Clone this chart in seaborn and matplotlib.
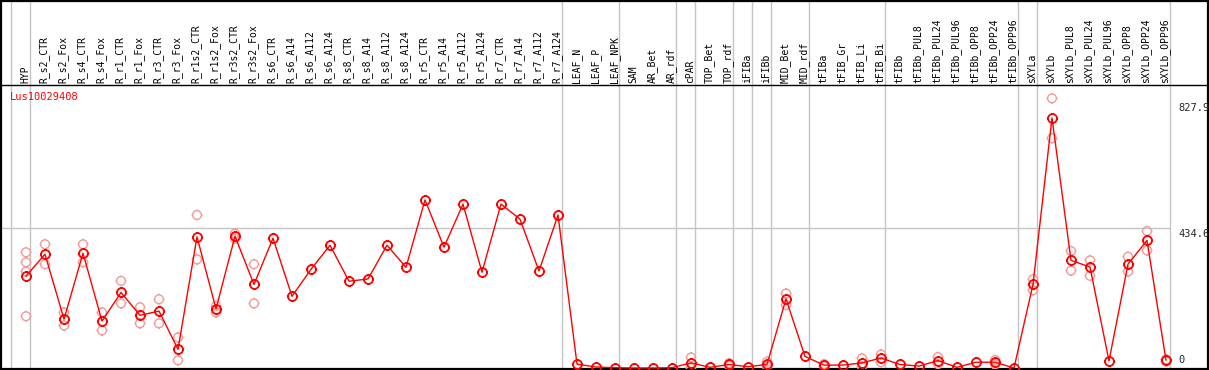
import numpy as np
import pandas as pd
import matplotlib
matplotlib.use("Agg")
import matplotlib.pyplot as plt
import seaborn as sns
from matplotlib.path import Path

categories = [
    "HYP", "R_s2_CTR", "R_s2_Fox", "R_s4_CTR", "R_s4_Fox", "R_r1_CTR", "R_r1_Fox",
    "R_r3_CTR", "R_r3_Fox", "R_r1s2_CTR", "R_r1s2_Fox", "R_r3s2_CTR", "R_r3s2_Fox",
    "R_s6_CTR", "R_s6_A14", "R_s6_A112", "R_s6_A124", "R_s8_CTR", "R_s8_A14",
    "R_s8_A112", "R_s8_A124", "R_r5_CTR", "R_r5_A14", "R_r5_A112", "R_r5_A124",
    "R_r7_CTR", "R_r7_A14", "R_r7_A112", "R_r7_A124", "LEAF_N", "LEAF_P", "LEAF_NPK",
    "SAM", "AR_Bet", "AR_rdf", "cPAR", "TOP_Bet", "TOP_rdf", "iFIBa", "iFIBb",
    "MID_Bet", "MID_rdf", "tFIBa", "tFIB_Gr", "tFIB_Li", "tFIB_Bi", "tFIBb",
    "tFIBb_PUL8", "tFIBb_PUL24", "tFIBb_PUL96", "tFIBb_OPP8", "tFIBb_OPP24",
    "tFIBb_OPP96", "sXYLa", "sXYLb", "sXYLb_PUL8", "sXYLb_PUL24", "sXYLb_PUL96",
    "sXYLb_OPP8", "sXYLb_OPP24", "sXYLb_OPP96",
]

means = [
    286, 354, 152, 357, 146, 235, 164, 177, 58, 408, 184, 410, 260,
    404, 223, 307, 382, 270, 277, 382, 313, 523, 376, 510, 298,
    510, 463, 302, 476, 12, 3, 1, 0, 0, 1, 16, 2, 11, 4, 11,
    215, 36, 9, 9, 16, 31, 11, 6, 23, 2, 18, 18, 0,
    260, 778, 335, 314, 22, 323, 397, 24,
]

nan = np.nan
rep_hi = [
    360, 385, 173, 385, 173, 271, 189, 214, 95, 476, 193, 418, 323,
    nan, nan, nan, nan, nan, nan, nan, nan, nan, nan, nan, nan,
    nan, nan, nan, nan, nan, nan, nan, nan, nan, nan, 33, nan, 15, nan, 19,
    232, nan, 12, nan, 30, 42, nan, nan, 34, nan, nan, 25, nan,
    276, 839, 364, 335, nan, 346, 426, 27,
]
rep_lo = [
    161, 323, 132, 329, 117, 201, 139, 139, 24, 338, 173, 402, 201,
    nan, nan, nan, nan, nan, nan, nan, nan, nan, nan, nan, nan,
    nan, nan, nan, nan, nan, nan, nan, nan, nan, nan, 0, nan, 7, nan, 4,
    196, nan, 6, nan, 4, 18, nan, nan, 12, nan, nan, 11, nan,
    242, 715, 303, 287, nan, 300, 366, 21,
]
extra_reps = {"HYP": [329, 300]}

separators_after = [-1, 0, 28, 31, 34, 35, 37, 38, 39, 41, 45, 52, 53, 60]
ytick_values = [0, 434.6, 827.9]
gene_id = "Lus10029408"

# ---------------------------------------------------------------------------
sns.set_theme(style="white")
plt.rcParams["font.family"] = ["DejaVu Sans Mono", "DejaVu Sans"]

W, H = 1209, 370
fig = plt.figure(figsize=(W / 100, H / 100), dpi=100)
ax = fig.add_axes([1 / W, 1 / H, 1207 / W, 368 / H])

pos = np.arange(len(categories))
df_mean = pd.DataFrame({"pos": pos, "value": means})

rep_rows = []
for i, c in enumerate(categories):
    for v in (rep_hi[i], rep_lo[i]):
        if not np.isnan(v):
            rep_rows.append((i, v))
    for v in extra_reps.get(c, []):
        rep_rows.append((i, v))
df_rep = pd.DataFrame(rep_rows, columns=["pos", "value"])

# marker: circle with 4 small outer ticks
circ = Path.unit_circle()
verts = list(circ.vertices)
codes = list(circ.codes)
for d in [(0, 1), (0, -1), (1, 0), (-1, 0)]:
    verts += [(1.0 * d[0], 1.0 * d[1]), (1.25 * d[0], 1.25 * d[1])]
    codes += [Path.MOVETO, Path.LINETO]
mk = Path(verts, codes)

light = "#f29a9a"
sns.scatterplot(data=df_rep, x="pos", y="value", ax=ax, marker=mk, s=62,
                facecolors="none", edgecolors=light, linewidths=1.0,
                legend=False, zorder=3)
sns.lineplot(data=df_mean, x="pos", y="value", ax=ax, color="#ff0000",
             linewidth=1.0, marker=mk, markersize=8.0, markerfacecolor="none",
             markeredgecolor="#ff0000", markeredgewidth=1.3, zorder=4)

# pixel mapping: x_px = 26 + 19*i ; y_px = 368 - 0.3214*v
xs = 19.0
ax.set_xlim((1 - 26) / xs, (1208 - 26) / xs)
ys = 0.3214
ax.set_ylim((368 - 369) / ys, (368 - 1) / ys)
ax.set_xlabel("")
ax.set_ylabel("")
ax.set_xticks([])
ax.set_yticks([])
for s in ax.spines.values():
    s.set_visible(True)
    s.set_color("black")
    s.set_linewidth(1.6)

sep_v = (368 - 85) / ys
ax.axhline(sep_v, color="black", linewidth=1.0, zorder=2)

for a in separators_after:
    ax.axvline(a + 0.23, color="#c4c4c4", linewidth=1.0, zorder=1)

ax.hlines(434.6, ax.get_xlim()[0], 60.23, color="#c4c4c4", linewidth=1.0, zorder=1)

label_v = (368 - 83) / ys
for i, c in enumerate(categories):
    ax.text(i - 0.05, label_v, c, rotation=90, ha="center", va="bottom",
            fontsize=7, color="black")

ax.text((10 - 26) / xs, (368 - 97) / ys, gene_id, color="#ff0000",
        fontsize=7.5, ha="left", va="center")

lab_x = (1178 - 26) / xs
for v in ytick_values:
    txt = "0" if v == 0 else f"{v:.1f}"
    if v == 0:
        ax.text(lab_x, v + 9, txt, fontsize=7.5, ha="left", va="bottom")
    else:
        ax.text(lab_x, v - 3, txt, fontsize=7.5, ha="left", va="top")

fig.savefig("out.png", dpi=100)
